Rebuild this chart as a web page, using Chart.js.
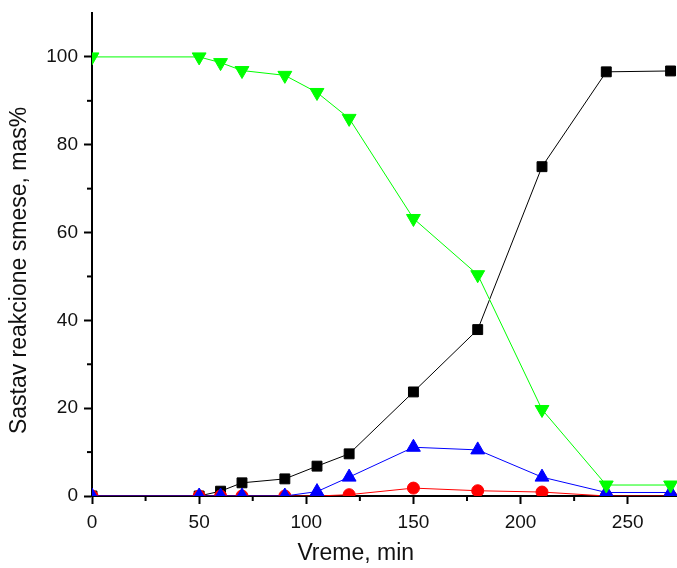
<!DOCTYPE html>
<html>
<head>
<meta charset="utf-8">
<script src="https://cdn.jsdelivr.net/npm/chart.js@4"></script>
<style>
  html, body { margin: 0; padding: 0; background: #fff; }
  #wrap { width: 677px; height: 568px; }
</style>
</head>
<body>
<div id="wrap"><canvas id="c"></canvas></div>
<script>
const times = [0, 50, 60, 70, 90, 105, 120, 150, 180, 210, 240, 270];
const black = [0, 0, 1.1, 3, 3.9, 6.8, 9.6, 23.7, 37.9, 75, 96.6, 96.8];
const red = [0, 0, 0, 0, 0, 0, 0.3, 1.8, 1.2, 0.9, 0, 0];
const blue = [0, 0, 0, 0, 0, 1, 4.3, 11.1, 10.5, 4.3, 0.8, 0.8];
const green = [100, 100, 98.7, 96.9, 95.8, 91.9, 86, 63.2, 50.4, 19.7, 2.5, 2.5];
const xTicks = [0, 50, 100, 150, 200, 250];
const yTicks = [0, 20, 40, 60, 80, 100];

const toXY = arr => arr.map((v, i) => ({ x: times[i], y: v }));
const font = 'Liberation Sans, Arial, sans-serif';
const pad = n => '\u00a0'.repeat(n);

// minor ticks drawn by hand (shorter than major)
const minorTicks = {
  id: 'minorTicks',
  afterDraw(chart) {
    const c = chart.ctx;
    const xs = chart.scales.x, ys = chart.scales.y;
    c.save();
    c.strokeStyle = '#000';
    c.lineWidth = 2;
    for (let v = 25; v < xs.max; v += 50) {
      const px = xs.getPixelForValue(v);
      c.beginPath();
      c.moveTo(px, xs.top);
      c.lineTo(px, xs.top + 5);
      c.stroke();
    }
    for (let v = 10; v < ys.max; v += 20) {
      const py = ys.getPixelForValue(v);
      c.beginPath();
      c.moveTo(ys.right, py);
      c.lineTo(ys.right - 5, py);
      c.stroke();
    }
    c.restore();
  }
};

const ds = (data, color, style, radius, rot, order) => ({
  data: toXY(data),
  borderColor: color,
  backgroundColor: color,
  borderWidth: 1,
  pointStyle: style,
  pointRadius: radius,
  pointRotation: rot,
  pointBorderWidth: 1,
  order: order
});

new Chart(document.getElementById('c'), {
  type: 'line',
  data: {
    datasets: [
      ds(black, '#000000', 'rect', 7, 0, 3),
      ds(red, '#ff0000', 'circle', 6, 0, 2),
      ds(blue, '#0000ff', 'triangle', 8, 0, 1),
      ds(green, '#00ff00', 'triangle', 8, 180, 0)
    ]
  },
  options: {
    responsive: true,
    maintainAspectRatio: false,
    animation: false,
    layout: { autoPadding: false, padding: { top: 13, right: 0, left: 0, bottom: 0 } },
    plugins: { legend: { display: false }, tooltip: { enabled: false } },
    scales: {
      x: {
        type: 'linear',
        min: 0,
        max: 273,
        afterBuildTicks(s) { s.ticks = xTicks.map(v => ({ value: v })); },
        grid: { drawOnChartArea: false, tickLength: 8, tickWidth: 2, tickColor: '#000' },
        border: { color: '#000', width: 2 },
        ticks: { autoSkip: false, color: '#111', padding: 7, maxRotation: 0,
          font: { family: font, size: 19 } },
        title: { display: true, text: 'Vreme, min' + pad(9), color: '#111',
          font: { family: font, size: 23 }, padding: { top: 0, bottom: 1 } },
        afterFit(s) { s.height = 72; s.paddingLeft = 0; s.paddingRight = 0; }
      },
      y: {
        min: 0,
        max: 110,
        afterBuildTicks(s) { s.ticks = yTicks.map(v => ({ value: v })); },
        grid: { drawOnChartArea: false, tickLength: 8, tickWidth: 2, tickColor: '#000' },
        border: { color: '#000', width: 2 },
        ticks: { autoSkip: false, color: '#111', padding: 6,
          font: { family: font, size: 19 } },
        title: { display: true, text: 'Sastav reakcione smese, mas%' + pad(5), color: '#111',
          font: { family: font, size: 23 }, padding: { top: 6, bottom: 0 } },
        afterFit(s) { s.width = 92; s.paddingTop = 0; s.paddingBottom = 0; }
      }
    }
  },
  plugins: [minorTicks]
});
</script>
</body>
</html>
